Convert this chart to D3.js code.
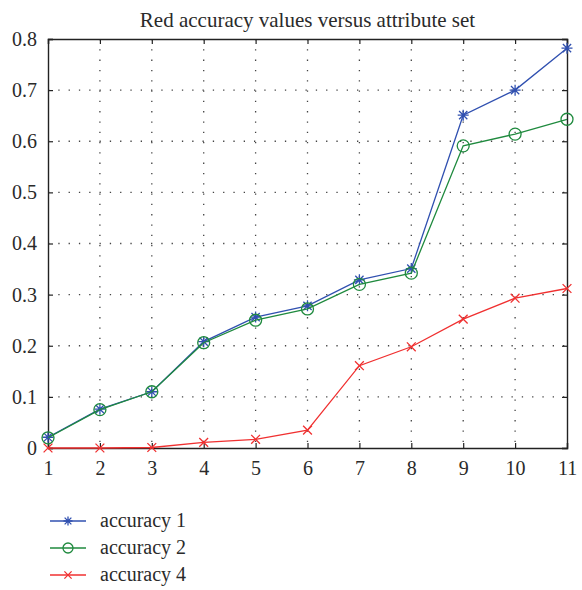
<!DOCTYPE html>
<html>
<head>
<meta charset="utf-8">
<script src="https://cdn.jsdelivr.net/npm/d3@7"></script>
<style>
html,body{margin:0;padding:0;background:#fff;}
</style>
</head>
<body>
<svg id="chart" width="582" height="590"></svg>
<script>
const categories = [1,2,3,4,5,6,7,8,9,10,11];
const accuracy1 = [0.021,0.076,0.110,0.208,0.256,0.278,0.329,0.351,0.651,0.700,0.782];
const accuracy2 = [0.020,0.075,0.110,0.206,0.250,0.272,0.320,0.342,0.591,0.614,0.643];
const accuracy4 = [0.000,0.000,0.001,0.011,0.017,0.035,0.161,0.198,0.252,0.293,0.312];
const yTicks = [0,0.1,0.2,0.3,0.4,0.5,0.6,0.7,0.8];
const yTickLabels = ["0","0.1","0.2","0.3","0.4","0.5","0.6","0.7","0.8"];
const seriesNames = ["accuracy 1","accuracy 2","accuracy 4"];
const title = "Red accuracy values versus attribute set";

const FONT = "Liberation Serif, DejaVu Serif, serif";
const series = [
  {name:seriesNames[0], values:accuracy1, color:"#3050b0", marker:"star"},
  {name:seriesNames[1], values:accuracy2, color:"#1f8a3e", marker:"circle"},
  {name:seriesNames[2], values:accuracy4, color:"#f03030", marker:"x"}
];

const svg = d3.select("#chart");
const L=48, R=567, T=39, B=448;
const x = d3.scaleLinear().domain([1,11]).range([L,R]);
const y = d3.scaleLinear().domain([0,0.8]).range([B,T]);

// grid
const grid = svg.append("g");
grid.selectAll("line.v").data(categories.slice(1,-1)).enter().append("line")
  .attr("x1",d=>x(d)).attr("x2",d=>x(d)).attr("y1",T).attr("y2",B)
  .attr("stroke","#444").attr("stroke-width",1.3).attr("stroke-dasharray","1.3,9");
grid.selectAll("line.h").data(yTicks.slice(1,-1)).enter().append("line")
  .attr("y1",d=>y(d)).attr("y2",d=>y(d)).attr("x1",L).attr("x2",R)
  .attr("stroke","#444").attr("stroke-width",1.3).attr("stroke-dasharray","1.3,9");

// axes
const tickFmt = (d)=>yTickLabels[yTicks.indexOf(d)];
const ax = svg.append("g");
ax.append("g").attr("transform",`translate(0,${B})`)
  .call(d3.axisBottom(x).tickValues(categories).tickSize(-5).tickPadding(13).tickFormat(d3.format("d")));
ax.append("g").attr("transform",`translate(0,${T})`)
  .call(d3.axisTop(x).tickValues(categories).tickSize(-5).tickFormat(""));
ax.append("g").attr("transform",`translate(${L},0)`)
  .call(d3.axisLeft(y).tickValues(yTicks).tickSize(-5).tickPadding(11).tickFormat(tickFmt));
ax.append("g").attr("transform",`translate(${R},0)`)
  .call(d3.axisRight(y).tickValues(yTicks).tickSize(-5).tickFormat(""));
ax.selectAll("g").attr("font-family",FONT).attr("font-size",20);
ax.selectAll(".domain").attr("stroke","#222").attr("stroke-width",1.4);
ax.selectAll(".tick line").attr("stroke","#222").attr("stroke-width",1.2);
ax.selectAll(".tick text").attr("fill","#2a2a2a").attr("font-family",FONT).attr("font-size",20);

// title
svg.append("text").attr("x",(L+R)/2).attr("y",27).attr("text-anchor","middle")
  .attr("font-family",FONT).attr("font-size",21).attr("fill","#2a2a2a").text(title);

function drawMarker(g, type, cx, cy, color, s){
  if(type==="circle"){
    g.append("circle").attr("cx",cx).attr("cy",cy).attr("r",s).attr("fill","none")
      .attr("stroke",color).attr("stroke-width",1.3);
  } else if(type==="x"){
    const d=s*0.8;
    g.append("path").attr("d",`M${cx-d},${cy-d}L${cx+d},${cy+d}M${cx-d},${cy+d}L${cx+d},${cy-d}`)
      .attr("stroke",color).attr("stroke-width",1.3).attr("fill","none");
  } else {
    const d=s*0.75, e=s;
    g.append("path").attr("d",`M${cx-d},${cy-d}L${cx+d},${cy+d}M${cx-d},${cy+d}L${cx+d},${cy-d}M${cx},${cy-e}L${cx},${cy+e}M${cx-e},${cy}L${cx+e},${cy}`)
      .attr("stroke",color).attr("stroke-width",1.3).attr("fill","none");
  }
}

const line = d3.line().x((d,i)=>x(categories[i])).y(d=>y(d));
series.forEach(s=>{
  const g = svg.append("g");
  g.append("path").datum(s.values).attr("d",line).attr("fill","none")
    .attr("stroke",s.color).attr("stroke-width",1.3);
  s.values.forEach((v,i)=>drawMarker(g,s.marker,x(categories[i]),y(v),s.color,s.marker==="circle"?6:5.5));
});

// legend
const leg = svg.append("g");
series.forEach((s,i)=>{
  const ly = 521 + i*27;
  leg.append("line").attr("x1",50).attr("x2",86).attr("y1",ly).attr("y2",ly)
    .attr("stroke",s.color).attr("stroke-width",1.3);
  drawMarker(leg,s.marker,68,ly,s.color,s.marker==="circle"?5:4.5);
  leg.append("text").attr("x",100).attr("y",ly+6).attr("font-family",FONT)
    .attr("font-size",20).attr("fill","#2a2a2a").text(s.name);
});
</script>
</body>
</html>
